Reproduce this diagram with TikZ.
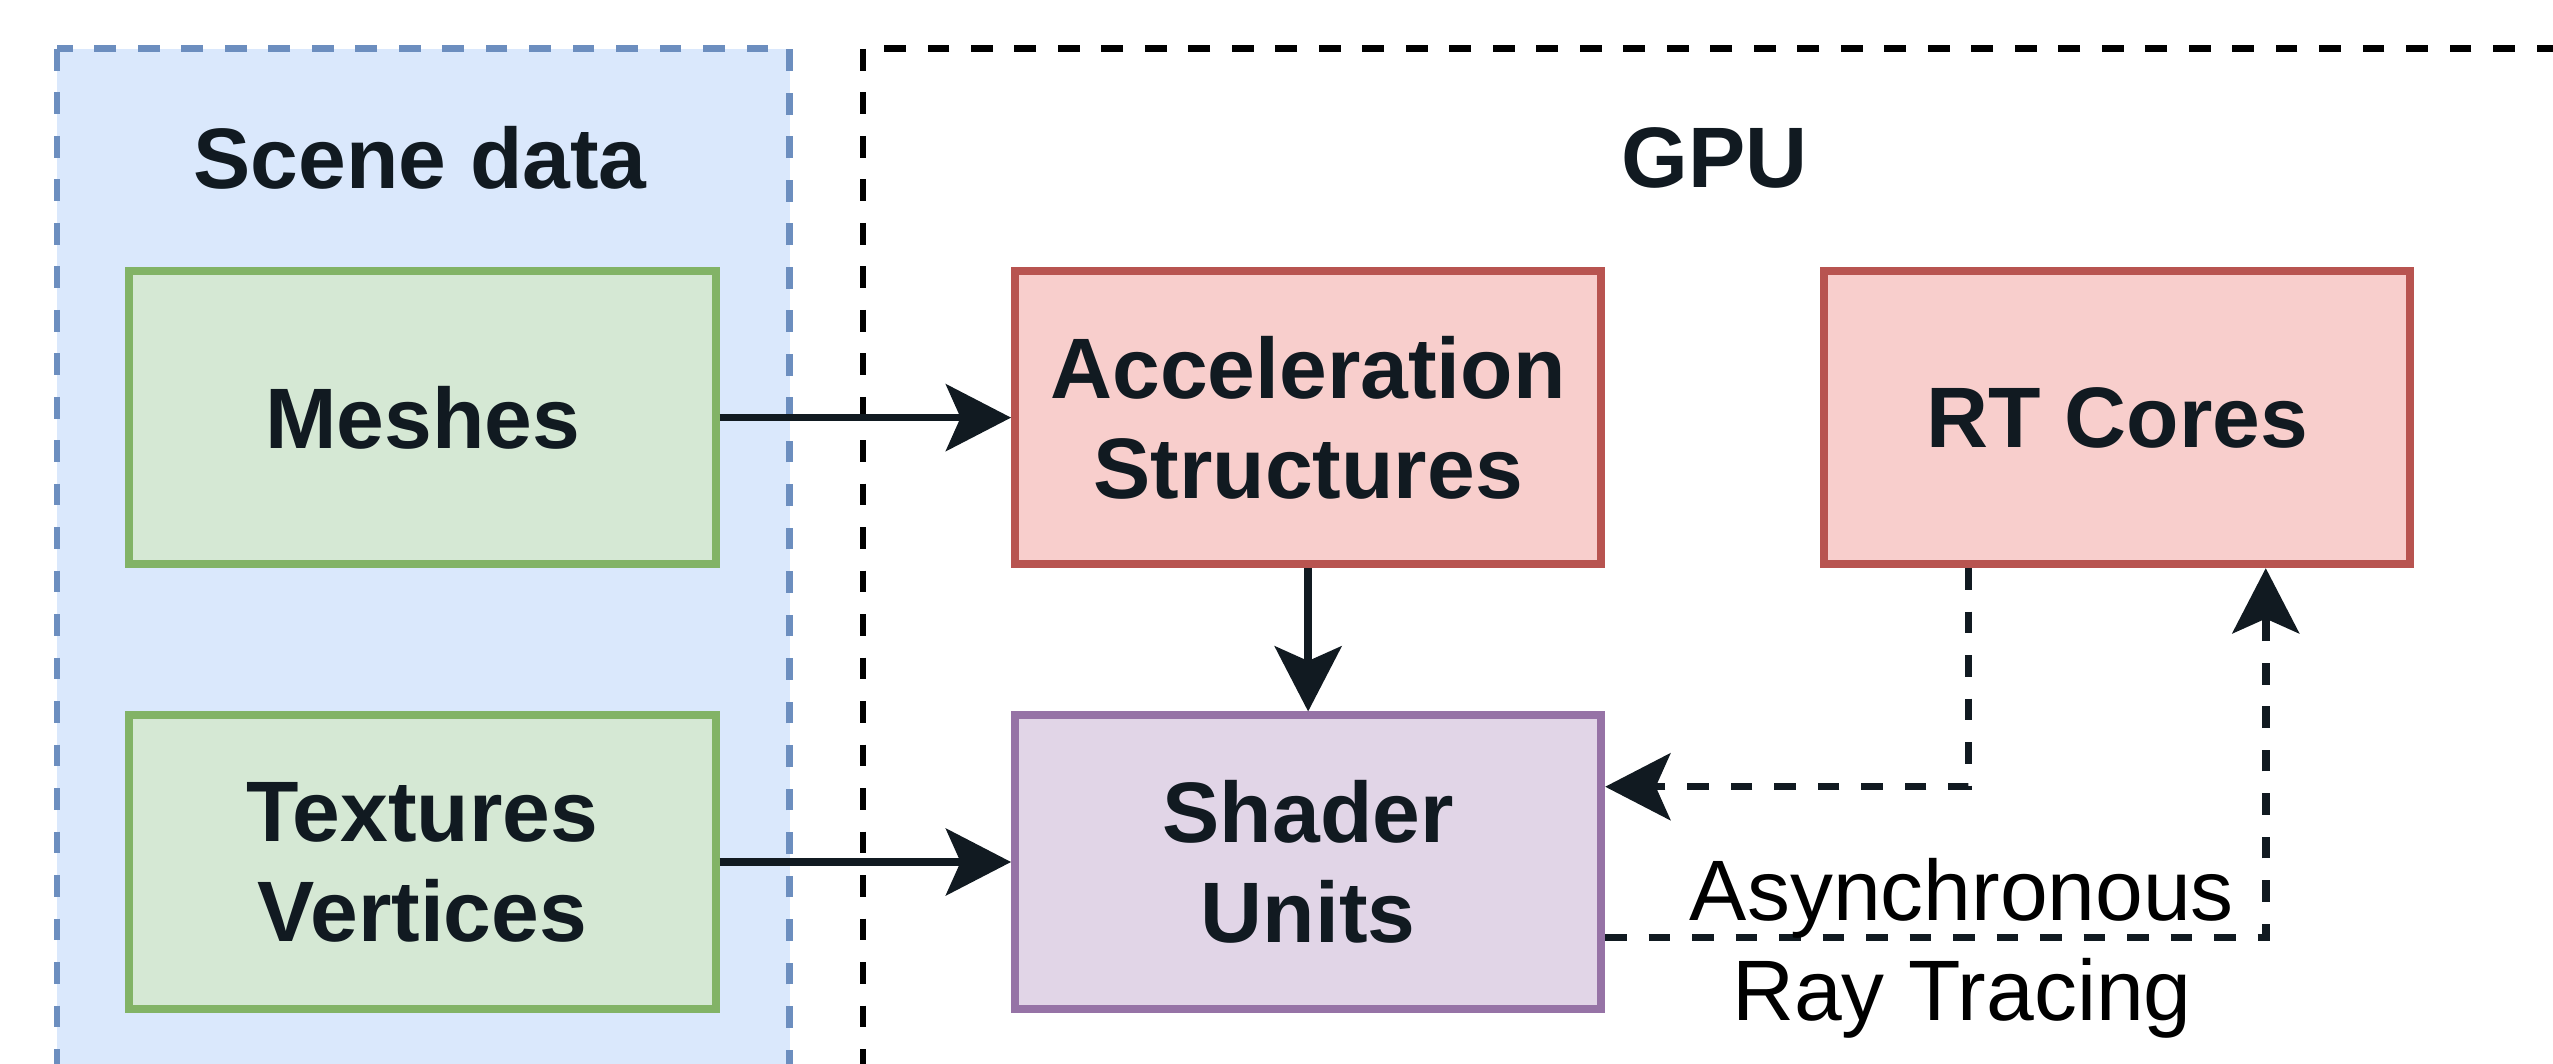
\documentclass[tikz,border=0pt]{standalone}
\usepackage{fontspec}
\setmainfont{Liberation Sans}
\usetikzlibrary{calc,positioning,arrows.meta}
\definecolor{ink}{HTML}{111A21}
\definecolor{scenefill}{HTML}{DAE8FC}
\definecolor{sceneline}{HTML}{6C8EBF}
\definecolor{datafill}{HTML}{D5E8D4}
\definecolor{dataline}{HTML}{82B366}
\definecolor{hwfill}{HTML}{F8CECC}
\definecolor{hwline}{HTML}{B85450}
\definecolor{shfill}{HTML}{E1D5E7}
\definecolor{shline}{HTML}{9673A6}
\tikzset{
	unit/.style={draw,rectangle,line width=1.4pt,minimum width=3.6cm,minimum height=1.8cm,
		align=center,text=ink,font=\fontsize{15}{17.5}\selectfont\bfseries},
	datanode/.style={unit,fill=datafill,draw=dataline},
	hwnode/.style={unit,fill=hwfill,draw=hwline},
	shadernode/.style={unit,fill=shfill,draw=shline},
	heading/.style={text=ink,font=\fontsize{15}{17.5}\selectfont\bfseries},
	groupframe/.style={line width=1.2pt,dash pattern=on 3.8pt off 3.8pt},
	flow/.style={draw=ink,line width=1.3pt,-{Stealth[length=0.4cm,width=0.41cm,inset=0.09cm]}},
	async/.style={flow,dash pattern=on 3.8pt off 3.8pt}
}

\begin{document}
\begin{tikzpicture}

\useasboundingbox (0,0) rectangle (15.68,-6.53);
\clip (0,0) rectangle (15.68,-6.53);

% group frames
\draw[groupframe,fill=scenefill,draw=sceneline] (0.35,-0.30) rectangle (4.85,-7.2);
\draw[groupframe,draw=black] (5.30,-0.30) rectangle (15.76,-7.2);
\node[heading] (scene) at (2.58,-0.97) {Scene data};
\node[heading] (gpu) at (10.53,-0.97) {GPU};

\node[datanode] (meshes) at (2.595,-2.565) {Meshes};
\node[datanode,below=0.88cm of meshes] (textures) {Textures\\Vertices};
\node[hwnode,right=1.79cm of meshes] (accel) {Acceleration\\Structures};
\node[hwnode,right=1.32cm of accel] (rtcores) {RT Cores};
\node[shadernode,below=0.88cm of accel] (shader) {Shader\\Units};

\coordinate (rtout) at ($(rtcores.south west)!0.25!(rtcores.south east)$);
\coordinate (rtin) at ($(rtcores.south west)!0.75!(rtcores.south east)$);
\coordinate (shin) at ($(shader.north east)!0.25!(shader.south east)$);
\coordinate (shout) at ($(shader.north east)!0.75!(shader.south east)$);

\draw[flow] (meshes) -- (accel);
\draw[flow] (textures) -- (shader);
\draw[flow] (accel) -- (shader);
\draw[async] (rtout) |- (shin);
\draw[async] (shout) -| node[pos=0.27,yshift=-0.07cm,align=center,text=black,
	font=\fontsize{15}{17.5}\selectfont] (asynclabel) {Asynchronous\\Ray Tracing} (rtin);

\end{tikzpicture}
\end{document}
